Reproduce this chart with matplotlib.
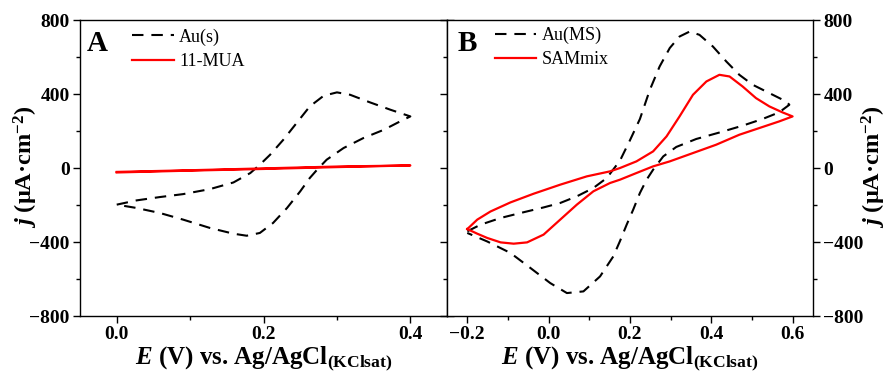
import matplotlib
matplotlib.use("Agg")
import matplotlib.pyplot as plt
from matplotlib.ticker import MultipleLocator

plt.rcParams['font.family'] = ['Liberation Serif', 'DejaVu Serif']
plt.rcParams['mathtext.fontset'] = 'custom'
plt.rcParams['mathtext.rm'] = 'Liberation Serif:bold'
plt.rcParams['mathtext.it'] = 'Liberation Serif:italic:bold'
plt.rcParams['mathtext.bf'] = 'Liberation Serif:bold'

# Panel A: Au(s) (anodic sweep then cathodic sweep)
au_s_E = [0.0, 0.027, 0.0587, 0.0905, 0.127, 0.159, 0.182, 0.195, 0.209, 0.227, 0.245, 0.263, 0.282, 0.300,
          0.318, 0.345, 0.373, 0.4,
          0.386, 0.364, 0.336, 0.309, 0.286, 0.273, 0.263, 0.250, 0.232, 0.213, 0.195, 0.177, 0.159, 0.127,
          0.0905, 0.0587, 0.027, 0.0]
au_s_j = [-198, -175, -157, -141, -114, -78, -27, 18, 72, 153, 243, 333, 391, 409,
          396, 355, 315, 279,
          252, 207, 162, 108, 45, -9, -54, -126, -216, -297, -351, -366, -355, -324,
          -279, -243, -216, -198]
# Panel A: 11-MUA
mua_E = [0.0, 0.1, 0.2, 0.3, 0.4, 0.3, 0.2, 0.1, 0.0]
mua_j = [-24, -14, -5, 5, 14, 8, -2, -12, -21]

# Panel B: Au(MS)
au_ms_E = [-0.2, -0.167, -0.118, -0.069, -0.0124, 0.0285, 0.0694, 0.110, 0.143, 0.1755, 0.2, 0.2245, 0.249,
           0.273, 0.298, 0.322, 0.347, 0.371, 0.404, 0.437, 0.469, 0.502, 0.543, 0.584, 0.592,
           0.567, 0.526, 0.477, 0.420, 0.363, 0.314, 0.282, 0.257, 0.241, 0.2245, 0.208, 0.192, 0.1755,
           0.159, 0.1265, 0.0856, 0.045, 0.004, -0.045, -0.094, -0.151, -0.2]
au_ms_j = [-342, -306, -270, -243, -213, -189, -153, -108, -54, 40, 150, 265, 423,
           549, 649, 711, 738, 720, 657, 576, 504, 450, 405, 360, 342,
           301, 265, 229, 192, 157, 114, 63, -9, -63, -135, -225, -306, -395,
           -478, -586, -667, -676, -622, -540, -459, -397, -351]
# Panel B: SAMmix
sam_E = [-0.2, -0.1755, -0.143, -0.094, -0.037, 0.0285, 0.094, 0.151, 0.1755, 0.216, 0.257, 0.290, 0.322,
         0.355, 0.388, 0.420, 0.445, 0.477, 0.510, 0.543, 0.575, 0.6,
         0.567, 0.518, 0.469, 0.412, 0.355, 0.298, 0.257, 0.216, 0.1755, 0.151, 0.110, 0.0694, 0.0285,
         -0.0124, -0.053, -0.0859, -0.118, -0.151, -0.1755, -0.2]
sam_j = [-330, -279, -235, -186, -139, -90, -45, -18, 0, 36, 90, 171, 279,
         396, 468, 504, 495, 441, 378, 333, 301, 279,
         252, 216, 180, 126, 81, 36, 9, -27, -63, -81, -126, -198, -279,
         -360, -402, -409, -402, -378, -355, -330]

xticks_A = [0.0, 0.2, 0.4]
xticks_B = [-0.2, 0.0, 0.2, 0.4, 0.6]
yticks = [-800, -400, 0, 400, 800]

fig = plt.figure(figsize=(8.9, 3.77), dpi=100)
axA = fig.add_axes([0.0899, 0.1618, 0.4124, 0.785])
axB = fig.add_axes([0.5022, 0.1618, 0.4112, 0.785])

dash = (5.5, 3.8)
axA.plot(au_s_E, au_s_j, color='black', lw=1.5, ls=(0, dash), label='Au(s)')
axA.plot(mua_E, mua_j, color='red', lw=1.6, label='11-MUA')
axB.plot(au_ms_E, au_ms_j, color='black', lw=1.5, ls=(0, dash), label='Au(MS)')
axB.plot(sam_E, sam_j, color='red', lw=1.6, label='SAMmix')

xlabel = r'$\mathit{E}$ (V) vs. Ag/AgCl$_{\mathbf{(KClsat)}}$'
ylabel = r'$\mathit{j}$ (μA·cm$^{\mathbf{-2}}$)'

for ax, xt, xl in [(axA, xticks_A, (-0.05, 0.45)), (axB, xticks_B, (-0.25, 0.65))]:
    ax.set_xlim(*xl)
    ax.set_ylim(-800, 800)
    ax.set_xticks(xt)
    ax.set_yticks(yticks)
    ax.set_xticklabels([f'{v:.1f}'.replace('-', '\u2212') for v in xt], fontsize=14, fontweight='bold')
    ax.set_yticklabels([str(v).replace('-', '\u2212') for v in yticks], fontsize=14, fontweight='bold')
    ax.xaxis.set_minor_locator(MultipleLocator(0.1))
    ax.yaxis.set_minor_locator(MultipleLocator(200))
    ax.tick_params(which='both', direction='out', top=False, right=True, left=True, bottom=True,
                   width=1.0, pad=2.5)
    ax.tick_params(which='major', length=5)
    ax.tick_params(which='minor', length=3)
    for sp in ax.spines.values():
        sp.set_linewidth(1.0)
    ax.set_xlabel(xlabel, fontsize=18, fontweight='bold', labelpad=1)

axA.tick_params(labelleft=True, labelright=False)
axB.tick_params(labelleft=False, labelright=True)
axA.set_ylabel(ylabel, fontsize=17.5, fontweight='bold')
axA.yaxis.set_label_coords(-0.109, 0.505)
axB.yaxis.set_label_position('right')
axB.set_ylabel(ylabel, fontsize=17.5, fontweight='bold', rotation=90)
axB.yaxis.set_label_coords(1.128, 0.505)

axA.text(0.019, 0.965, 'A', transform=axA.transAxes, fontsize=21, fontweight='bold', va='top', ha='left')
axB.text(0.03, 0.965, 'B', transform=axB.transAxes, fontsize=21, fontweight='bold', va='top', ha='left')

for ax, anchor in [(axA, (0.142, 0.972)), (axB, (0.131, 0.977))]:
    ax.legend(loc='upper left', bbox_to_anchor=anchor, frameon=False, fontsize=13,
              handlelength=2.3, handletextpad=0.3, labelspacing=0.4, borderaxespad=0.0, borderpad=0.0)

fig.savefig('out.png', dpi=100)
